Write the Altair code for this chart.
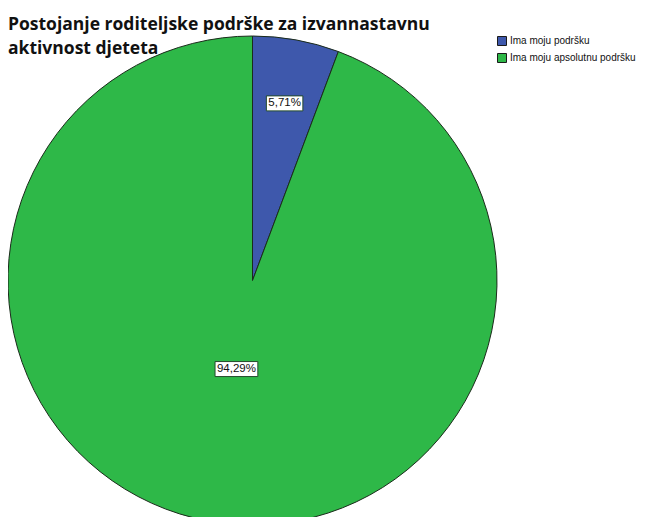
import altair as alt
import pandas as pd

categories = ["Ima moju podršku", "Ima moju apsolutnu podršku"]
values = [5.71, 94.29]
labels = ["5,71%", "94,29%"]
colors = ["#3E58AC", "#2EB848"]
title_lines = ["Postojanje roditeljske podrške za izvannastavnu", "aktivnost djeteta"]

df = pd.DataFrame({"category": categories, "value": values, "label": labels,
                   "order": list(range(len(categories)))})

PAD_TOP = 56
CX, CY, R = 244.5, 216.5, 244.5

base = alt.Chart(df)

arc = base.mark_arc(outerRadius=R, stroke="#1b2b1b", strokeWidth=1).encode(
    theta=alt.Theta("value:Q", stack=True),
    color=alt.Color("category:N", sort=categories,
                    scale=alt.Scale(domain=categories, range=colors),
                    legend=alt.Legend(title=None, orient="none", legendX=489, legendY=-28,
                                      symbolType="square", symbolSize=81,
                                      symbolStrokeColor="#1a1a1a", symbolStrokeWidth=1,
                                      labelFont="Liberation Sans", labelFontSize=10,
                                      labelColor="#111", rowPadding=3, labelOffset=3)),
    order=alt.Order("order:Q"),
    x=alt.value(CX), y=alt.value(CY),
)

lab = base.transform_window(
    cum="sum(value)", sort=[alt.SortField("order")]
).transform_calculate(
    mid="(datum.cum - datum.value/2) / 100 * 2 * PI",
    r="datum.value < 50 ? 180 : 90",
).transform_calculate(
    lx=f"{CX} + datum.r * sin(datum.mid)",
    ly=f"{CY} - datum.r * cos(datum.mid)",
).transform_calculate(
    w="length(datum.label) * 6.3 + 5",
).transform_calculate(
    x1="datum.lx - datum.w/2", x2="datum.lx + datum.w/2",
    y1="datum.ly - 7.5", y2="datum.ly + 7.5",
)

box = lab.mark_rect(fill="white", stroke="#244a2c", strokeWidth=1).encode(
    x=alt.X("x1:Q", scale=None), x2="x2:Q",
    y=alt.Y("y1:Q", scale=None), y2="y2:Q",
)

txt = lab.mark_text(font="Liberation Sans", fontSize=11.5, color="#111",
                    align="center", baseline="middle").encode(
    x=alt.X("lx:Q", scale=None), y=alt.Y("ly:Q", scale=None), text="label:N",
)

chart = alt.layer(arc, box, txt).properties(
    width=643, height=509 - PAD_TOP,
    padding={"top": PAD_TOP, "left": 0, "right": 0, "bottom": 0},
    autosize=alt.AutoSizeParams(type="none"),
    background="white",
    title=alt.Title(title_lines, anchor="start", frame="group", font="Open Sans",
                    fontSize=17.5, fontWeight="bold", color="#111", lineHeight=24,
                    offset=-23),
).configure_view(stroke=None, strokeWidth=0)

chart.save("out.html", embed_options={"renderer": "svg", "actions": False})
